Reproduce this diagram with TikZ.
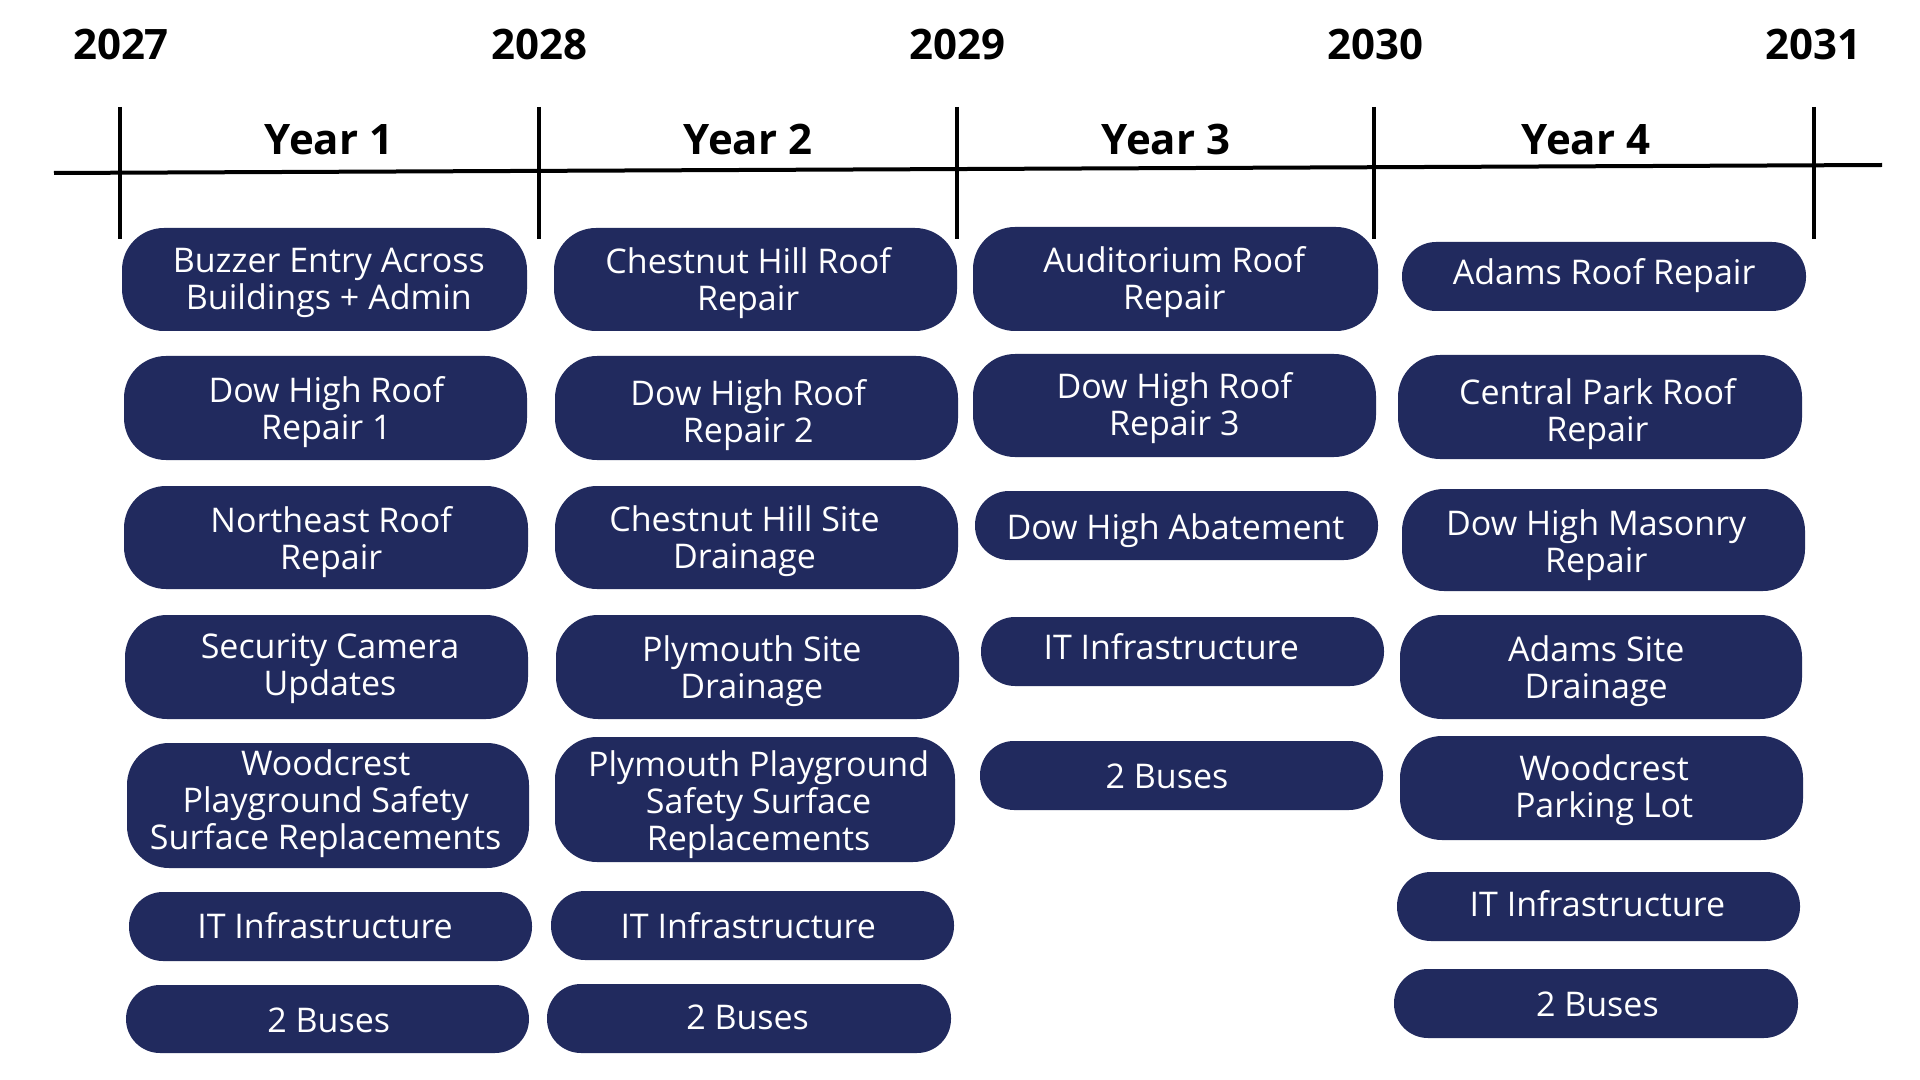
\documentclass[tikz,border=0pt]{standalone}
\usepackage{fontspec}
\setmainfont{Open Sans}
\definecolor{navy}{RGB}{33,42,94}
\tikzset{
  tb/.style={fill=navy, inner sep=0pt},
  tbtext/.style={text=white, align=center, inner sep=0pt,
    font={\fontsize{17}{18.5}\selectfont}},
  tall/.style={rounded corners=21pt},
  short/.style={rounded corners=17pt},
  yearlbl/.style={font={\fontsize{21}{24}\selectfont\bfseries}, inner sep=0pt, anchor=base},
  tick/.style={line width=1.6pt},
  axis/.style={line width=2pt}
}
% name, corner style, x1, y1, x2, y2, text centre x, text centre y, text
\newcommand\tbox[9]{%
  \node[tb,#2, minimum width={(#5-#3)*0.5pt}, minimum height={(#6-#4)*0.5pt}] (#1) at ({(#3+#5)/2},{(#4+#6)/2}) {};
  \node[tbtext] (#1t) at (#7,#8) {#9};}
\begin{document}
\begin{tikzpicture}[x=0.5pt,y=-0.5pt]
\fill[white] (0,0) rectangle (1920,1080);
\useasboundingbox (0,0) rectangle (1920,1080);

% timeline
\coordinate (tl) at (54,173);
\coordinate (tr) at (1882,165);
\draw[axis] (tl) -- (tr);
\foreach \n/\x in {a/120,b/539,c/957,d/1374,e/1814}{
  \coordinate (\n top) at (\x,107);
  \coordinate (\n bot) at (\x,239);
  \draw[tick] (\n top) -- (\n bot);
}
% years
\node[yearlbl] (y2027) at (121,60) {2027};
\node[yearlbl] (y2028) at (539,60) {2028};
\node[yearlbl] (y2029) at (957,60) {2029};
\node[yearlbl] (y2030) at (1375,60) {2030};
\node[yearlbl] (y2031) at (1813,60) {2031};
\node[yearlbl] (yr1) at (329,155) {Year 1};
\node[yearlbl] (yr2) at (748,155) {Year 2};
\node[yearlbl] (yr3) at (1166,155) {Year 3};
\node[yearlbl] (yr4) at (1586,155) {Year 4};

% Year 1
\tbox{a1}{tall}{122}{228}{527}{331}{328.8}{283}{Buzzer Entry Across\\Buildings + Admin}
\tbox{a2}{tall}{124}{356}{527}{460}{326.3}{412}{Dow High Roof\\Repair 1}
\tbox{a3}{tall}{124}{486}{528}{589}{331.2}{541.6}{Northeast Roof\\Repair}
\tbox{a4}{tall}{125}{615}{528}{719}{330}{669}{Security Camera\\Updates}
\tbox{a5}{tall}{127}{743}{529}{868}{325.7}{803.6}{Woodcrest\\Playground Safety\\Surface Replacements}
\tbox{a6}{short}{129}{892}{532}{961}{325.1}{925.7}{IT Infrastructure}
\tbox{a7}{short}{126}{985}{529}{1053}{328.8}{1020}{2 Buses}

% Year 2
\tbox{b1}{tall}{554}{228}{957}{331}{748.2}{283.2}{Chestnut Hill Roof\\Repair}
\tbox{b2}{tall}{555}{356}{958}{460}{748.2}{415.4}{Dow High Roof\\Repair 2}
\tbox{b3}{tall}{555}{486}{958}{589}{744.5}{541.6}{Chestnut Hill Site\\Drainage}
\tbox{b4}{tall}{556}{615}{959}{719}{751.8}{671.4}{Plymouth Site\\Drainage}
\tbox{b5}{tall}{555}{737}{955}{862}{758.6}{804.8}{Plymouth Playground\\Safety Surface\\Replacements}
\tbox{b6}{short}{551}{891}{954}{960}{748.2}{925.7}{IT Infrastructure}
\tbox{b7}{short}{547}{984}{951}{1053}{747.6}{1017.6}{2 Buses}

% Year 3
\tbox{c1}{tall}{973}{227}{1378}{331}{1174.3}{282}{Auditorium Roof\\Repair}
\tbox{c2}{tall}{973}{354}{1376}{457}{1174.3}{408.1}{Dow High Roof\\Repair 3}
\tbox{c3}{short}{975}{491}{1378}{560}{1175.5}{530.5}{Dow High Abatement}
\tbox{c4}{short}{981}{617}{1384}{686}{1171.2}{646.5}{IT Infrastructure}
\tbox{c5}{short}{980}{741}{1383}{810}{1167}{776.3}{2 Buses}

% Year 4
\tbox{d1}{short}{1402}{242}{1806}{311}{1604.1}{275.8}{Adams Roof Repair}
\tbox{d2}{tall}{1398}{355}{1802}{459}{1597.4}{414.2}{Central Park Roof\\Repair}
\tbox{d3}{tall}{1402}{489}{1805}{591}{1596.2}{545.2}{Dow High Masonry\\Repair}
\tbox{d4}{tall}{1400}{615}{1802}{719}{1596.2}{671.4}{Adams Site\\Drainage}
\tbox{d5}{tall}{1400}{736}{1803}{840}{1604.1}{790.1}{Woodcrest\\Parking Lot}
\tbox{d6}{short}{1397}{872}{1800}{941}{1597.4}{903.7}{IT Infrastructure}
\tbox{d7}{short}{1394}{969}{1798}{1038}{1597.4}{1004.1}{2 Buses}
\end{tikzpicture}
\end{document}
